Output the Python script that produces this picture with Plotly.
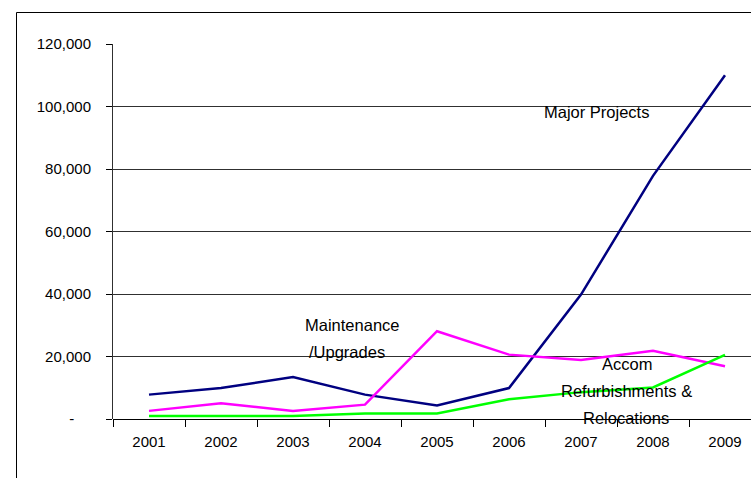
import plotly.graph_objects as go

years = ["2001", "2002", "2003", "2004", "2005", "2006", "2007", "2008", "2009"]
major_projects = [7800, 9900, 13400, 7800, 4300, 9900, 39800, 77800, 110000]
maintenance = [2600, 5000, 2600, 4600, 28100, 20600, 18900, 21800, 16900]
accom = [1000, 1000, 1000, 1800, 1800, 6300, 8600, 10100, 20500]
y_ticks = [0, 20000, 40000, 60000, 80000, 100000, 120000]
y_tick_text = ["-\u00a0\u00a0\u00a0\u00a0", "20,000", "40,000", "60,000", "80,000", "100,000", "120,000"]

FONT = "Liberation Sans, Arial, sans-serif"
xs = list(range(len(years)))

fig = go.Figure()
fig.add_trace(go.Scatter(x=xs, y=major_projects, mode="lines", line=dict(color="#000080", width=2.5)))
fig.add_trace(go.Scatter(x=xs, y=maintenance, mode="lines", line=dict(color="#FF00FF", width=2.5)))
fig.add_trace(go.Scatter(x=xs, y=accom, mode="lines", line=dict(color="#00FF00", width=2.5)))

W, H = 751, 478
L, T, B = 113, 44, 59
plot_w = W - L
plot_h = H - T - B
unit = 72.0
x_range = [-0.5, -0.5 + plot_w / unit]

def px_x(p):
    return (p - L) / unit - 0.5

def px_y(p):
    return (T + plot_h - p) / plot_h * 120000

labels = [
    ("Major Projects", 596, 112),
    ("Maintenance", 352, 325),
    ("/Upgrades", 347, 352),
    ("Accom", 627, 364),
    ("Refurbishments &", 626, 391),
    ("Relocations", 626, 418),
]
for txt, lx, ly in labels:
    fig.add_annotation(x=px_x(lx), y=px_y(ly), text=txt, showarrow=False,
                       font=dict(family=FONT, size=16.5, color="#000000"),
                       xanchor="center", yanchor="middle")

# outer chart frame
fx = (16.5 - L) / plot_w
fy = (T + plot_h - 12.5) / plot_h
fig.add_shape(type="line", xref="paper", yref="paper", x0=fx, x1=fx, y0=-1, y1=fy,
              line=dict(color="#000000", width=1))
fig.add_shape(type="line", xref="paper", yref="paper", x0=fx, x1=2, y0=fy, y1=fy,
              line=dict(color="#000000", width=1))

fig.update_layout(
    width=W, height=H,
    margin=dict(l=L, r=0, t=T, b=B),
    plot_bgcolor="white", paper_bgcolor="white",
    showlegend=False,
    font=dict(family=FONT, size=15, color="#000000"),
    xaxis=dict(
        range=x_range, tickvals=xs, ticktext=years, ticks="",
        showgrid=False, zeroline=False, showline=False,
        minor=dict(tick0=-0.5, dtick=1, ticks="outside", ticklen=7, tickcolor="#000000", showgrid=False),
        tickfont=dict(family=FONT, size=15),
        ticklabelstandoff=12,
    ),
    yaxis=dict(
        range=[0, 120000], tickvals=y_ticks, ticktext=y_tick_text,
        ticks="outside", ticklen=6, tickcolor="#000000",
        showgrid=True, gridcolor="#303030", gridwidth=1,
        showline=True, linecolor="#303030", linewidth=1,
        zeroline=True, zerolinecolor="#000000", zerolinewidth=1,
        tickfont=dict(family=FONT, size=15),
        ticklabelstandoff=12,
    ),
)

fig.write_html("out.html")
